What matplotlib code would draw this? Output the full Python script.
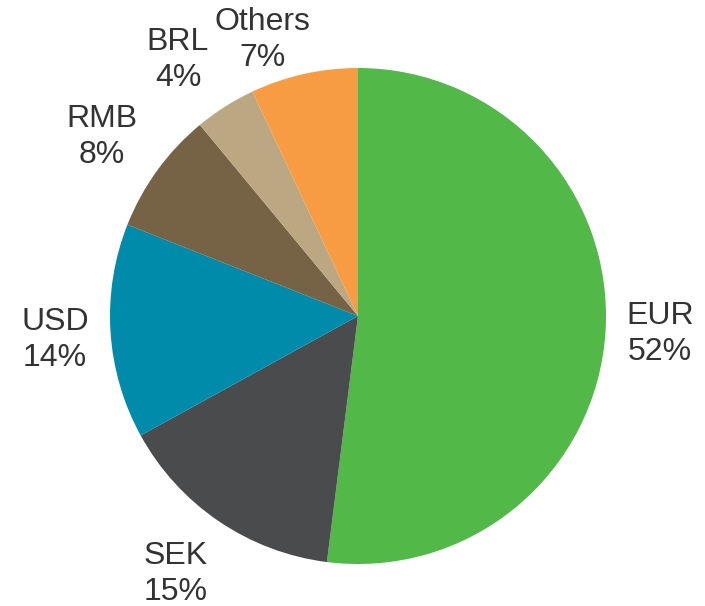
import matplotlib.pyplot as plt

labels = ['EUR', 'SEK', 'USD', 'RMB', 'BRL', 'Others']
shares = [52, 15, 14, 8, 4, 7]
colors = ['#52B848', '#4A4B4D', '#008BAA', '#766244', '#BBA882', '#F79C42']
# label anchor positions (pie radius = 1)
label_pos = [(1.218, -0.073), (-0.734, -1.040), (-1.222, -0.097),
             (-1.032, 0.722), (-0.726, 1.032), (-0.387, 1.113)]

plt.rcParams['font.family'] = ['Liberation Sans', 'DejaVu Sans']

fig = plt.figure(figsize=(7.05, 6.06), dpi=100)
ax = fig.add_axes([0, 0, 1, 1])

texts = [f'{l}\n{s}%' for l, s in zip(labels, shares)]
wedges, lbls = ax.pie(shares, labels=texts, colors=colors, startangle=90,
                      counterclock=False, radius=1.0,
                      textprops={'fontsize': 23, 'color': '#333333',
                                 'linespacing': 1.27})
for t, p in zip(lbls, label_pos):
    t.set_position(p)
    t.set_horizontalalignment('center')
    t.set_verticalalignment('center')

ax.set_aspect('auto')
ax.set_xlim(-358 / 248, (705 - 358) / 248)
ax.set_ylim(-(606 - 316) / 248, 316 / 248)
ax.axis('off')

fig.savefig('out.png', dpi=100)
